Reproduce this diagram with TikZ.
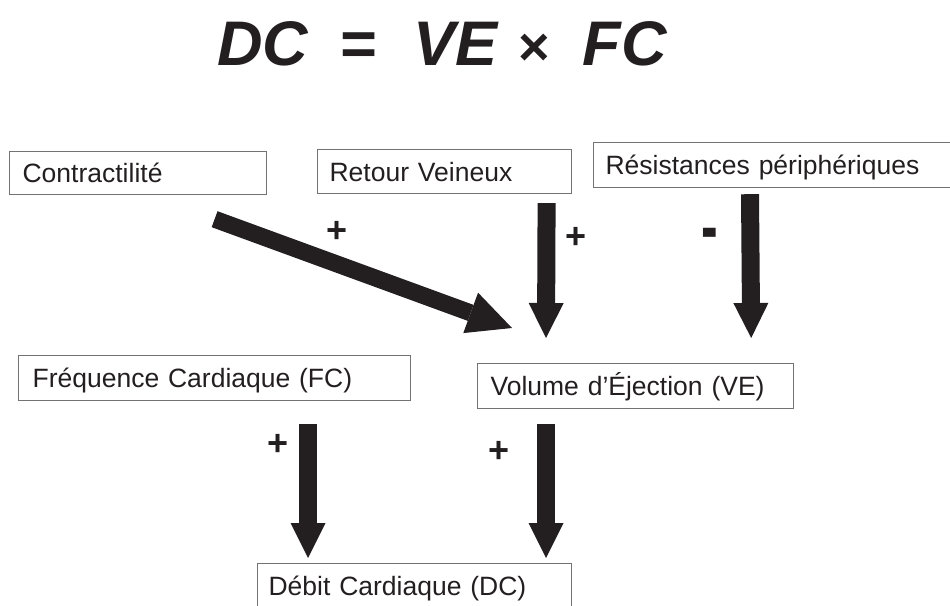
\documentclass[tikz,border=0pt]{standalone}
\usepackage{fontspec}
\setmainfont{Liberation Sans}
\usetikzlibrary{arrows.meta}
\definecolor{ink}{HTML}{231F20}

\begin{document}
\begin{tikzpicture}[x=1pt, y=-1pt,
  every node/.style = {text=ink},
  box/.style = {draw=black!55, line width=1.2pt, anchor=north west,
    inner xsep=13pt, inner ysep=0pt, align=left,
    text height=19pt, text depth=0pt,
    font=\fontsize{26.5}{30}\selectfont},
  sign/.style = {font=\fontsize{36}{40}\selectfont\bfseries},
  fat/.style = {draw=ink, line width=18pt,
    -{Triangle[width=35pt, length=35pt, line width=0pt]}}]
  \useasboundingbox (0,0) rectangle (950,605);
  \clip (0,0) rectangle (950,605);

  \node[anchor=base west, inner sep=0pt,
    font=\fontsize{63}{70}\selectfont\bfseries\itshape] (formula) at (217,65)
    {DC\hspace{31pt}=\hspace{38pt}VE\hspace{19pt}\fontsize{54}{60}\selectfont×\hspace{34pt}\fontsize{63}{70}\selectfont FC};

  % facteurs
  \node[box, text width=231pt, minimum height=43pt] (contract) at (9,151) {Contractilité};
  \node[box, text width=230pt, minimum height=44pt, inner xsep=12pt] (retour) at (317,149) {Retour Veineux};
  \node[box, text width=346pt, minimum height=45pt, inner xsep=12pt] (resist) at (593,142) {Résistances périphériques};
  \node[box, text width=364pt, minimum height=45pt, inner xsep=14pt] (freq) at (18,355) {Fréquence Cardiaque (FC)};
  \node[box, text width=290pt, minimum height=45pt] (volume) at (477,363) {Volume d’Éjection (VE)};
  \node[box, text width=292pt, minimum height=44pt, inner xsep=11pt] (debit) at (257,563) {Débit Cardiaque (DC)};

  % fleches
  \draw[fat, line width=17pt, -{Triangle[width=43pt, length=44pt, line width=0pt]}]
    ([xshift=76.5pt, yshift=-24pt]contract.south) -- ([xshift=35pt, yshift=35pt]volume.north west);
  \draw[fat] ([xshift=102pt, yshift=-9pt]retour.south) -- ([xshift=69pt, yshift=25pt]volume.north west);
  \draw[fat] ([xshift=157pt, yshift=-6pt]resist.south west) -- ([xshift=-43pt, yshift=25pt]volume.north east);
  \draw[fat] ([xshift=290pt, yshift=-23pt]freq.south west) -- ([xshift=51pt, yshift=5pt]debit.north west);
  \draw[fat] ([xshift=69pt, yshift=-15pt]volume.south west) -- ([xshift=289pt, yshift=5pt]debit.north west);

  \node[sign] (s-contract) at (337,232) {+};
  \node[sign] (s-retour) at (576,238) {+};
  \node[sign, font=\fontsize{40}{44}\selectfont\bfseries] (s-resist) at (710,240) {\scalebox{1.25}[1.9]{-}};
  \node[sign] (s-freq) at (278,445) {+};
  \node[sign] (s-volume) at (499,452) {+};
\end{tikzpicture}
\end{document}
